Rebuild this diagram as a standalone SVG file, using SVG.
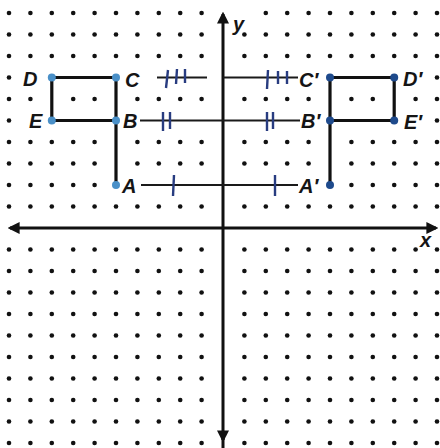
<svg xmlns="http://www.w3.org/2000/svg" xmlns:xlink="http://www.w3.org/1999/xlink" width="440" height="448" viewBox="0 0 440 448">
<style>
.dot{fill:#111}
.axis{stroke:#111;stroke-width:3;fill:none}
.fig{stroke:#111;stroke-width:3.2;fill:none;stroke-linecap:square}
.conn{stroke:#1a1a1a;stroke-width:2.2;fill:none}
.tick{stroke:#283c80;stroke-width:2.4;fill:none}
.lbl{font-family:"Liberation Sans",Arial,sans-serif;font-style:italic;font-weight:bold;font-size:20px;fill:#151515}
.vl{fill:#4a90c8}
.vr{fill:#1e4a8c}
.erase{fill:#fff}
</style>
<defs>
<marker id="arr" viewBox="0 0 10 10" refX="8" refY="5" markerWidth="4" markerHeight="4" orient="auto-start-reverse">
<path d="M0,0 L10,5 L0,10 Z" fill="#111"/>
</marker>
<g id="row">
<circle class="dot" cx="9" cy="0" r="2.3"/><circle class="dot" cx="30.4" cy="0" r="2.3"/><circle class="dot" cx="51.8" cy="0" r="2.3"/><circle class="dot" cx="73.2" cy="0" r="2.3"/><circle class="dot" cx="94.6" cy="0" r="2.3"/><circle class="dot" cx="116" cy="0" r="2.3"/><circle class="dot" cx="137.4" cy="0" r="2.3"/><circle class="dot" cx="158.8" cy="0" r="2.3"/><circle class="dot" cx="180.2" cy="0" r="2.3"/><circle class="dot" cx="201.6" cy="0" r="2.3"/>
<circle class="dot" cx="244.4" cy="0" r="2.3"/><circle class="dot" cx="265.8" cy="0" r="2.3"/><circle class="dot" cx="287.2" cy="0" r="2.3"/><circle class="dot" cx="308.6" cy="0" r="2.3"/><circle class="dot" cx="330" cy="0" r="2.3"/><circle class="dot" cx="351.4" cy="0" r="2.3"/><circle class="dot" cx="372.8" cy="0" r="2.3"/><circle class="dot" cx="394.2" cy="0" r="2.3"/><circle class="dot" cx="415.6" cy="0" r="2.3"/><circle class="dot" cx="437" cy="0" r="2.3"/>
</g>
<g id="erase-row">
<circle class="erase" cx="73.2" cy="0" r="3.5"/><circle class="erase" cx="94.6" cy="0" r="3.5"/><circle class="erase" cx="137.4" cy="0" r="3.5"/><circle class="erase" cx="158.8" cy="0" r="3.5"/><circle class="erase" cx="180.2" cy="0" r="3.5"/><circle class="erase" cx="201.6" cy="0" r="3.5"/><circle class="erase" cx="244.4" cy="0" r="3.5"/><circle class="erase" cx="265.8" cy="0" r="3.5"/><circle class="erase" cx="287.2" cy="0" r="3.5"/><circle class="erase" cx="308.6" cy="0" r="3.5"/><circle class="erase" cx="351.4" cy="0" r="3.5"/><circle class="erase" cx="372.8" cy="0" r="3.5"/><circle class="erase" cx="30.4" cy="0" r="3.5"/><circle class="erase" cx="415.6" cy="0" r="3.5"/>
</g>
</defs>
<rect width="440" height="448" fill="#fff"/>
<g id="grid">
<use xlink:href="#row" y="13"/><use xlink:href="#row" y="34.5"/><use xlink:href="#row" y="56"/><use xlink:href="#row" y="77.5"/><use xlink:href="#row" y="99"/><use xlink:href="#row" y="120.5"/><use xlink:href="#row" y="142"/><use xlink:href="#row" y="163.5"/><use xlink:href="#row" y="185"/><use xlink:href="#row" y="206.5"/>
<use xlink:href="#row" y="249.5"/><use xlink:href="#row" y="271"/><use xlink:href="#row" y="292.5"/><use xlink:href="#row" y="314"/><use xlink:href="#row" y="335.5"/><use xlink:href="#row" y="357"/><use xlink:href="#row" y="378.5"/><use xlink:href="#row" y="400"/><use xlink:href="#row" y="421.5"/><use xlink:href="#row" y="443"/>
<use xlink:href="#erase-row" y="77.5"/><use xlink:href="#erase-row" y="120.5"/>
<circle class="erase" cx="137.4" cy="185" r="3.5"/><circle class="erase" cx="158.8" cy="185" r="3.5"/><circle class="erase" cx="180.2" cy="185" r="3.5"/><circle class="erase" cx="201.6" cy="185" r="3.5"/><circle class="erase" cx="244.4" cy="185" r="3.5"/><circle class="erase" cx="265.8" cy="185" r="3.5"/><circle class="erase" cx="287.2" cy="185" r="3.5"/><circle class="erase" cx="308.6" cy="185" r="3.5"/>
<circle class="erase" cx="116" cy="99" r="3.5"/><circle class="erase" cx="116" cy="142" r="3.5"/><circle class="erase" cx="116" cy="163.5" r="3.5"/><circle class="erase" cx="330" cy="99" r="3.5"/><circle class="erase" cx="330" cy="142" r="3.5"/><circle class="erase" cx="330" cy="163.5" r="3.5"/><circle class="erase" cx="51.8" cy="99" r="3.5"/><circle class="erase" cx="394.2" cy="99" r="3.5"/>
<circle class="erase" cx="244.4" cy="13" r="3.5"/>
</g>
<g id="axes">
<line class="axis" x1="10" y1="228" x2="436" y2="228" marker-start="url(#arr)" marker-end="url(#arr)"/>
<line class="axis" x1="223" y1="14" x2="223" y2="440" marker-start="url(#arr)" marker-end="url(#arr)"/>
<line class="axis" x1="223" y1="436" x2="223" y2="448"/>
<text class="lbl" x="233" y="31" font-size="18">y</text>
<text class="lbl" x="420" y="247" font-size="18">x</text>
</g>
<g id="connectors">
<line class="conn" x1="157" y1="77.5" x2="207" y2="77.5"/>
<line class="conn" x1="223" y1="77.5" x2="298" y2="77.5"/>
<path class="tick" d="M168,70 L166,88 M177,69 L176,84 M185,69 L185,83"/>
<path class="tick" d="M268,70 L267,89 M278,71 L278,84 M287,71 L287,84"/>
<line class="conn" x1="140" y1="120.5" x2="300" y2="120.5"/>
<path class="tick" d="M163,112 L163,131 M170,112 L170,129"/>
<path class="tick" d="M267,112 L267,131 M273,112 L273,129"/>
<line class="conn" x1="141" y1="185" x2="298" y2="185"/>
<path class="tick" d="M174,175 L173,196"/>
<path class="tick" d="M275,175 L275,196"/>
</g>
<g id="figure-ABCDE">
<polyline class="fig" points="116,185 116,77.5 51.8,77.5 51.8,120.5 116,120.5"/>
<circle class="vl" cx="116" cy="185" r="4"/><circle class="vl" cx="116" cy="120.5" r="4"/><circle class="vl" cx="116" cy="77.5" r="4"/><circle class="vl" cx="51.8" cy="77.5" r="4"/><circle class="vl" cx="51.8" cy="120.5" r="4"/>
<text class="lbl" x="23" y="86">D</text>
<text class="lbl" x="29" y="128">E</text>
<text class="lbl" x="125" y="87">C</text>
<text class="lbl" x="123" y="128">B</text>
<text class="lbl" x="122" y="193">A</text>
</g>
<g id="figure-ABCDE-prime">
<polyline class="fig" points="330,185 330,77.5 394.2,77.5 394.2,120.5 330,120.5"/>
<circle class="vr" cx="330" cy="185" r="4"/><circle class="vr" cx="330" cy="120.5" r="4"/><circle class="vr" cx="330" cy="77.5" r="4"/><circle class="vr" cx="394.2" cy="77.5" r="4"/><circle class="vr" cx="394.2" cy="120.5" r="4"/>
<text class="lbl" x="299" y="87">C′</text>
<text class="lbl" x="301" y="128">B′</text>
<text class="lbl" x="299" y="193">A′</text>
<text class="lbl" x="403" y="86">D′</text>
<text class="lbl" x="404" y="129">E′</text>
</g>
</svg>
